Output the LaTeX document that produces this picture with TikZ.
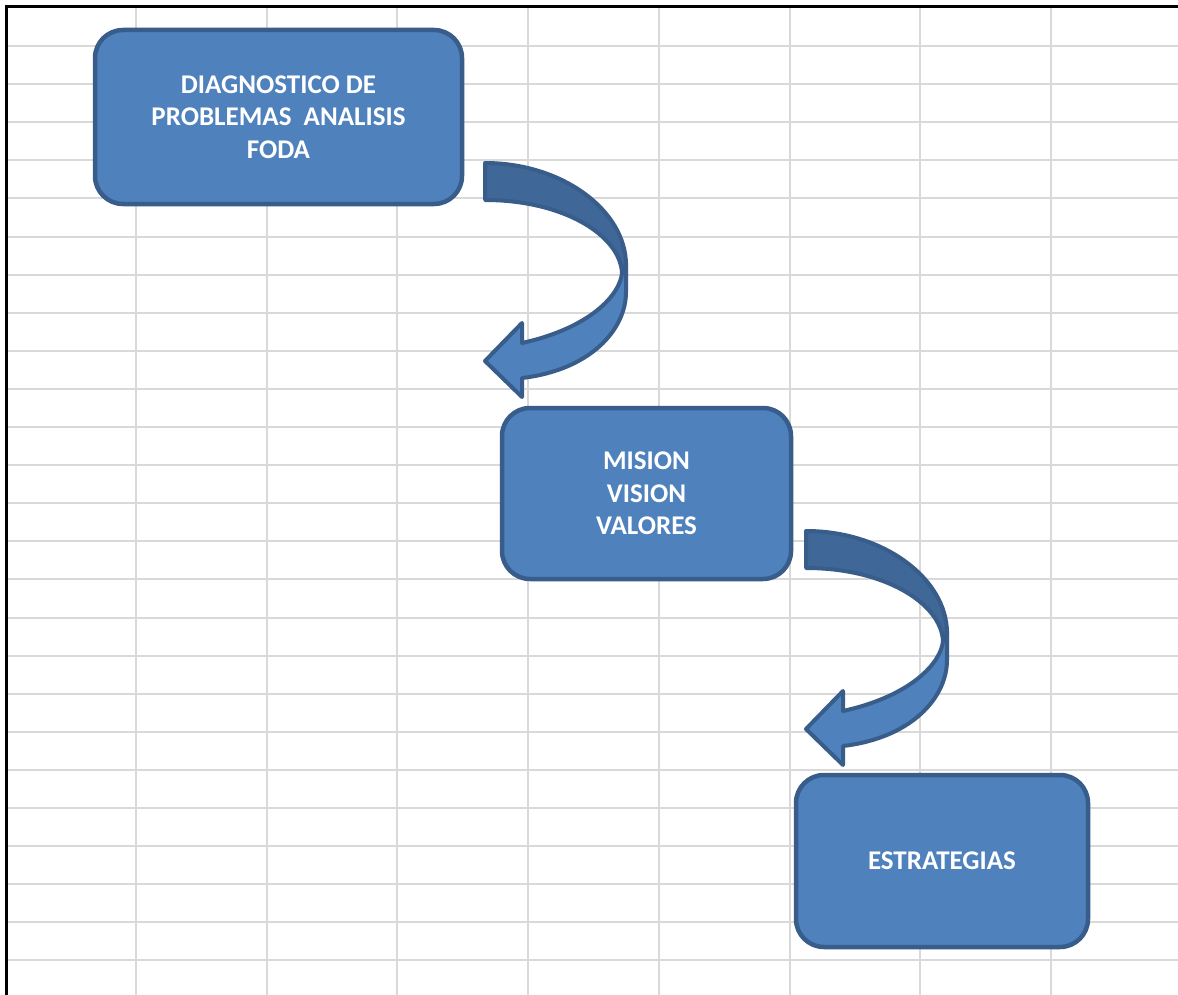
\documentclass[tikz,border=0pt]{standalone}
\usepackage{fontspec}
\setmainfont{Carlito}
\usetikzlibrary{positioning}
\definecolor{boxblue}{HTML}{4F81BD}
\definecolor{boxedge}{HTML}{385D8A}
\definecolor{backblue}{HTML}{3F6797}
\definecolor{gridgray}{HTML}{D9D9D9}
\tikzset{
stagebox/.style={rectangle, rounded corners=14pt, fill=boxblue, draw=boxedge,
  line width=2.25pt, text=white, align=center,
  font=\bfseries\fontsize{13.5}{16.2}\selectfont},
pics/turnarrow/.style={code={
  % front part of the arrow
  \draw[fill=boxblue, draw=boxedge, line width=2pt, line join=round]
    (141,100) -- (141,129) .. controls (141,167) and (105,207) .. (37,215)
    -- (37,234) -- (0,198) -- (37,160) -- (37,180)
    .. controls (105,165) and (135,132) .. (137,110) -- cycle;
  % back part of the arrow
  \draw[fill=backblue, draw=boxedge, line width=2pt, line join=round]
    (0,0) .. controls (78,0) and (141,48) .. (141,102) -- (137,110)
    .. controls (135,72) and (78,37) .. (0,37) -- cycle;
}}
}
\begin{document}
\begin{tikzpicture}[x=0.5pt, y=-0.5pt]
\useasboundingbox (0,0) rectangle (1178,995);
\fill[white] (-10,-10) rectangle (1188,1005);
% sheet grid
\foreach \k in {0,...,7}
  \draw[gridgray, line width=1pt] (136+130.7*\k,7) -- (136+130.7*\k,1000);
\foreach \k in {0,...,24}
  \draw[gridgray, line width=1pt] (6,46+38.1*\k) -- (1185,46+38.1*\k);
\draw[black, line width=1.5pt] (6,1000) -- (6,7) -- (1185,7);
% stages
\node[stagebox, minimum width=183.5pt, minimum height=87pt] (diag) at (278.5,117)
  {DIAGNOSTICO DE\\PROBLEMAS~~ANALISIS\\FODA};
\node[stagebox, minimum width=144.5pt, minimum height=85.5pt] (mision) at (646.5,493.5)
  {MISION\\VISION\\VALORES};
\node[stagebox, minimum width=146pt, minimum height=86pt] (estrat) at (942,861)
  {ESTRATEGIAS};
% curved arrows
\coordinate (turnA) at (485,163);
\coordinate (turnB) at (806,531);
\pic at (turnA) {turnarrow};
\pic at (turnB) {turnarrow};
\end{tikzpicture}
\end{document}
